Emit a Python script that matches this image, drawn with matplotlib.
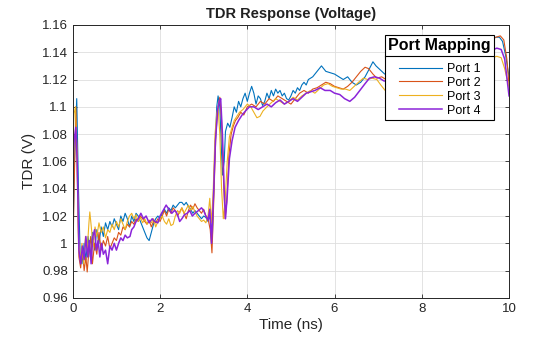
import matplotlib
matplotlib.use('Agg')
import matplotlib.pyplot as plt
from matplotlib.ticker import FuncFormatter, MultipleLocator
from matplotlib.lines import Line2D

plt.rcParams['font.family'] = ['Liberation Sans', 'DejaVu Sans']

# port 1 trace (ns, V)
t1 = [0.00, 0.04, 0.09, 0.13, 0.17, 0.21, 0.26, 0.30, 0.35, 0.40, 0.45, 0.50, 0.55, 0.60, 0.65, 0.70,
      0.75, 0.80, 0.85, 0.90, 0.95, 1.00, 1.05, 1.10, 1.15, 1.20, 1.25, 1.30, 1.35, 1.40, 1.45, 1.50,
      1.55, 1.60, 1.65, 1.70, 1.75, 1.80, 1.85, 1.90, 1.95, 2.00, 2.05, 2.10, 2.15, 2.20, 2.25, 2.30,
      2.35, 2.40, 2.45, 2.50, 2.55, 2.60, 2.65, 2.70, 2.75, 2.80, 2.85, 2.90, 2.95, 3.00, 3.05, 3.10,
      3.15, 3.20, 3.25, 3.30, 3.33, 3.37, 3.40, 3.43, 3.47, 3.50, 3.55, 3.60, 3.65, 3.70, 3.75, 3.80,
      3.85, 3.90, 3.95, 4.00, 4.05, 4.10, 4.15, 4.20, 4.25, 4.30, 4.35, 4.40, 4.45, 4.50, 4.55, 4.60,
      4.65, 4.70, 4.75, 4.80, 4.85, 4.90, 4.95, 5.00, 5.05, 5.10, 5.15, 5.20, 5.25, 5.30, 5.35, 5.40,
      5.50, 5.60, 5.70, 5.80, 5.90, 6.00, 6.10, 6.20, 6.30, 6.40, 6.50, 6.60, 6.70, 6.80, 6.88, 6.95,
      7.05, 7.15, 7.40, 7.70, 8.00, 8.30, 8.60, 8.90, 9.20, 9.50, 9.70, 9.78, 9.85, 9.92, 10.00]
v1 = [1.000, 1.060, 1.106, 1.040, 0.990, 0.985, 1.000, 0.988, 1.005, 0.990, 1.008, 0.995, 1.010, 1.000, 1.012, 1.005,
      1.015, 1.010, 1.016, 1.012, 1.018, 1.014, 1.010, 1.020, 1.016, 1.022, 1.018, 1.012, 1.020, 1.016, 1.022, 1.020,
      1.016, 1.012, 1.008, 1.004, 1.002, 1.008, 1.014, 1.018, 1.020, 1.018, 1.022, 1.025, 1.022, 1.026, 1.024, 1.028,
      1.026, 1.028, 1.030, 1.030, 1.028, 1.030, 1.027, 1.025, 1.022, 1.024, 1.022, 1.020, 1.018, 1.020, 1.019, 1.016,
      1.020, 1.005, 1.060, 1.100, 1.108, 1.100, 1.075, 1.050, 1.060, 1.082, 1.088, 1.085, 1.092, 1.100, 1.096, 1.104,
      1.100, 1.106, 1.110, 1.104, 1.110, 1.115, 1.110, 1.102, 1.108, 1.106, 1.101, 1.104, 1.110, 1.106, 1.112, 1.108,
      1.113, 1.110, 1.112, 1.108, 1.110, 1.106, 1.105, 1.108, 1.112, 1.110, 1.114, 1.112, 1.116, 1.118, 1.116, 1.120,
      1.122, 1.126, 1.130, 1.126, 1.125, 1.124, 1.122, 1.120, 1.122, 1.118, 1.116, 1.118, 1.122, 1.128, 1.133, 1.130,
      1.127, 1.124, 1.126, 1.130, 1.132, 1.135, 1.138, 1.142, 1.145, 1.148, 1.151, 1.151, 1.148, 1.138, 1.122]

# port 2 trace
t2 = [0.00, 0.03, 0.07, 0.10, 0.14, 0.18, 0.22, 0.26, 0.30, 0.33, 0.37, 0.41, 0.45, 0.50, 0.55, 0.60,
      0.65, 0.70, 0.75, 0.80, 0.85, 0.90, 0.95, 1.00, 1.05, 1.10, 1.15, 1.20, 1.25, 1.30, 1.35, 1.40,
      1.45, 1.50, 1.55, 1.60, 1.65, 1.70, 1.75, 1.80, 1.85, 1.90, 1.95, 2.00, 2.05, 2.10, 2.15, 2.20,
      2.25, 2.30, 2.35, 2.40, 2.45, 2.50, 2.55, 2.60, 2.65, 2.70, 2.75, 2.80, 2.85, 2.90, 2.95, 3.00,
      3.05, 3.10, 3.15, 3.19, 3.23, 3.28, 3.33, 3.37, 3.41, 3.45, 3.49, 3.53, 3.58, 3.63, 3.68, 3.73,
      3.78, 3.85, 3.92, 4.00, 4.10, 4.20, 4.30, 4.40, 4.50, 4.60, 4.70, 4.80, 4.90, 5.00, 5.10, 5.20,
      5.30, 5.40, 5.50, 5.60, 5.70, 5.80, 5.90, 6.00, 6.10, 6.20, 6.30, 6.40, 6.50, 6.60, 6.70, 6.78,
      6.88, 6.97, 7.08, 7.18, 7.40, 7.70, 8.00, 8.30, 8.60, 8.90, 9.20, 9.50, 9.70, 9.80, 9.88, 9.95, 10.00]
v2 = [0.985, 1.040, 1.100, 1.060, 0.990, 0.982, 0.995, 0.980, 0.990, 0.979, 0.995, 1.005, 0.985, 1.000, 0.992, 1.008,
      0.995, 1.002, 0.998, 1.005, 0.996, 1.000, 1.004, 1.002, 1.008, 1.006, 1.012, 1.010, 1.014, 1.012, 1.016, 1.014,
      1.018, 1.016, 1.020, 1.018, 1.016, 1.014, 1.017, 1.012, 1.016, 1.015, 1.018, 1.016, 1.020, 1.024, 1.020, 1.025,
      1.022, 1.026, 1.024, 1.020, 1.023, 1.026, 1.022, 1.018, 1.024, 1.028, 1.025, 1.029, 1.026, 1.024, 1.022, 1.025,
      1.020, 1.018, 1.010, 0.993, 1.030, 1.080, 1.100, 1.107, 1.090, 1.050, 1.018, 1.030, 1.065, 1.080, 1.086, 1.090,
      1.092, 1.096, 1.094, 1.100, 1.102, 1.100, 1.104, 1.102, 1.106, 1.104, 1.108, 1.106, 1.104, 1.102, 1.106, 1.110,
      1.112, 1.110, 1.113, 1.114, 1.116, 1.118, 1.117, 1.115, 1.114, 1.113, 1.115, 1.118, 1.122, 1.126, 1.129, 1.128,
      1.124, 1.121, 1.122, 1.120, 1.124, 1.128, 1.131, 1.134, 1.137, 1.140, 1.144, 1.148, 1.151, 1.152, 1.149, 1.135, 1.116]

# port 3 trace
t3 = [0.00, 0.03, 0.06, 0.09, 0.13, 0.17, 0.21, 0.25, 0.29, 0.33, 0.37, 0.39, 0.43, 0.47, 0.51, 0.55,
      0.60, 0.65, 0.70, 0.75, 0.80, 0.85, 0.90, 0.95, 1.00, 1.05, 1.10, 1.15, 1.20, 1.25, 1.30, 1.35,
      1.40, 1.45, 1.50, 1.55, 1.60, 1.65, 1.70, 1.75, 1.80, 1.85, 1.90, 1.95, 2.00, 2.05, 2.10, 2.15,
      2.20, 2.25, 2.30, 2.35, 2.40, 2.45, 2.50, 2.55, 2.60, 2.65, 2.70, 2.75, 2.80, 2.85, 2.90, 2.95,
      3.00, 3.05, 3.10, 3.14, 3.18, 3.22, 3.26, 3.30, 3.33, 3.37, 3.41, 3.45, 3.49, 3.54, 3.59, 3.65,
      3.70, 3.76, 3.82, 3.90, 4.00, 4.08, 4.15, 4.22, 4.29, 4.36, 4.45, 4.55, 4.65, 4.75, 4.85, 4.95,
      5.05, 5.15, 5.25, 5.35, 5.45, 5.55, 5.65, 5.75, 5.85, 5.95, 6.05, 6.15, 6.25, 6.35, 6.45, 6.55,
      6.66, 6.76, 6.86, 6.97, 7.06, 7.16, 7.40, 7.70, 8.00, 8.30, 8.60, 8.90, 9.20, 9.50, 9.72, 9.82,
      9.90, 10.00]
v3 = [1.077, 1.095, 1.100, 1.070, 1.000, 0.988, 1.000, 0.985, 1.005, 0.995, 1.015, 1.023, 1.010, 0.998, 1.012, 1.005,
      1.015, 1.008, 1.012, 1.004, 1.010, 1.008, 1.014, 1.010, 1.016, 1.012, 1.018, 1.014, 1.010, 1.016, 1.020, 1.022,
      1.018, 1.021, 1.016, 1.019, 1.015, 1.018, 1.014, 1.016, 1.015, 1.018, 1.012, 1.016, 1.018, 1.020, 1.016, 1.014,
      1.018, 1.013, 1.014, 1.020, 1.024, 1.022, 1.026, 1.022, 1.025, 1.028, 1.024, 1.027, 1.023, 1.020, 1.018, 1.016,
      1.017, 1.015, 1.020, 1.033, 1.015, 1.040, 1.080, 1.095, 1.100, 1.080, 1.040, 1.018, 1.030, 1.060, 1.078, 1.085,
      1.090, 1.093, 1.096, 1.098, 1.102, 1.100, 1.096, 1.092, 1.093, 1.097, 1.100, 1.103, 1.106, 1.104, 1.102, 1.104,
      1.107, 1.105, 1.108, 1.110, 1.112, 1.110, 1.113, 1.116, 1.117, 1.115, 1.114, 1.113, 1.113, 1.112, 1.115, 1.118,
      1.121, 1.120, 1.121, 1.120, 1.116, 1.112, 1.116, 1.120, 1.122, 1.125, 1.127, 1.130, 1.132, 1.135, 1.137, 1.136,
      1.128, 1.114]

# port 4 trace
t4 = [0.00, 0.03, 0.07, 0.10, 0.14, 0.18, 0.22, 0.26, 0.30, 0.34, 0.38, 0.42, 0.46, 0.50, 0.54, 0.58,
      0.62, 0.66, 0.70, 0.75, 0.80, 0.85, 0.90, 0.95, 1.00, 1.05, 1.10, 1.15, 1.20, 1.25, 1.31, 1.35,
      1.40, 1.45, 1.50, 1.56, 1.62, 1.68, 1.75, 1.82, 1.88, 1.95, 2.00, 2.07, 2.14, 2.20, 2.27, 2.33,
      2.37, 2.41, 2.45, 2.50, 2.56, 2.62, 2.68, 2.74, 2.80, 2.88, 2.95, 3.00, 3.05, 3.10, 3.14, 3.18,
      3.22, 3.27, 3.32, 3.36, 3.39, 3.43, 3.47, 3.50, 3.54, 3.59, 3.65, 3.72, 3.80, 3.88, 3.96, 4.05,
      4.15, 4.25, 4.35, 4.45, 4.55, 4.65, 4.75, 4.85, 4.95, 5.05, 5.15, 5.25, 5.35, 5.45, 5.55, 5.67,
      5.78, 5.90, 6.00, 6.12, 6.23, 6.35, 6.46, 6.58, 6.70, 6.80, 6.92, 7.03, 7.13, 7.40, 7.70, 8.00,
      8.30, 8.60, 8.90, 9.20, 9.50, 9.72, 9.82, 9.90, 10.00]
v4 = [1.063, 1.075, 1.085, 1.060, 0.995, 0.985, 0.998, 0.988, 1.005, 0.990, 1.002, 0.985, 1.005, 1.010, 0.995, 1.002,
      0.990, 1.000, 0.992, 0.995, 0.985, 0.998, 0.995, 1.000, 0.995, 1.000, 1.004, 1.002, 1.006, 1.004, 1.005, 1.010,
      1.012, 1.016, 1.018, 1.022, 1.018, 1.020, 1.015, 1.018, 1.016, 1.015, 1.020, 1.024, 1.028, 1.025, 1.022, 1.024,
      1.023, 1.020, 1.016, 1.018, 1.021, 1.022, 1.024, 1.020, 1.022, 1.024, 1.026, 1.024, 1.020, 1.017, 1.025, 1.000,
      1.030, 1.075, 1.098, 1.104, 1.106, 1.080, 1.040, 1.018, 1.035, 1.062, 1.075, 1.085, 1.090, 1.094, 1.097, 1.100,
      1.100, 1.098, 1.100, 1.102, 1.100, 1.103, 1.105, 1.102, 1.104, 1.106, 1.104, 1.107, 1.110, 1.111, 1.112, 1.114,
      1.112, 1.112, 1.110, 1.109, 1.106, 1.104, 1.107, 1.112, 1.117, 1.121, 1.122, 1.121, 1.119, 1.118, 1.120, 1.123,
      1.126, 1.130, 1.133, 1.137, 1.140, 1.143, 1.142, 1.135, 1.108]

labels = ['Port 1', 'Port 2', 'Port 3', 'Port 4']
colors = ['#0072BD', '#D95319', '#EDB120', '#8B24D9']

fig = plt.figure(figsize=(5.6, 3.37), dpi=100)
ax = fig.add_axes([0.130, 0.116, 0.779, 0.810])

traces = [(t1, v1), (t2, v2), (t3, v3), (t4, v4)]
for (t, v), lab, c in zip(traces, labels, colors):
    lw = 1.1 if lab == 'Port 4' else 0.8
    ax.plot(t, v, color=c, lw=lw, label=lab)

ax.set_xlim(0, 10)
ax.set_ylim(0.96, 1.16)
ax.xaxis.set_major_locator(MultipleLocator(2))
ax.yaxis.set_major_locator(MultipleLocator(0.02))
ax.yaxis.set_major_formatter(FuncFormatter(lambda y, p: '%g' % round(y, 4)))

ax.grid(True, color='#dedede', lw=0.6)
ax.set_axisbelow(True)
ax.tick_params(direction='in', top=True, right=True, length=3, width=0.6,
               labelsize=9.5, colors='#262626')
for s in ax.spines.values():
    s.set_color('#262626')
    s.set_linewidth(0.7)

ax.set_title('TDR Response (Voltage)', fontsize=10.5, fontweight='bold', color='#202020', pad=5)
ax.set_xlabel('Time (ns)', fontsize=11, color='#262626', labelpad=2)
ax.set_ylabel('TDR (V)', fontsize=11, color='#262626', labelpad=4)

leg = ax.legend(loc='upper right', bbox_to_anchor=(0.966, 0.963), borderaxespad=0,
                title='Port Mapping', fontsize=9, fancybox=False, framealpha=1,
                edgecolor='black', handlelength=3.4, handletextpad=0.4,
                labelspacing=0.15, borderpad=0.25)
leg.get_title().set_fontweight('bold')
leg.get_title().set_fontsize(11.5)
leg.get_frame().set_linewidth(0.8)
leg._legend_box.sep = 7

# separator under the legend title
fig.canvas.draw()
frame = leg.get_frame().get_window_extent()
tb = leg.get_title().get_window_extent()
inv = fig.transFigure.inverted()
x0, y_sep = inv.transform((frame.x0, tb.y0 - 3))
x1, _ = inv.transform((frame.x1, tb.y0 - 3))
fig.add_artist(Line2D([x0, x1], [y_sep, y_sep], color='black', lw=0.8, zorder=10))

fig.savefig('out.png', dpi=100)
